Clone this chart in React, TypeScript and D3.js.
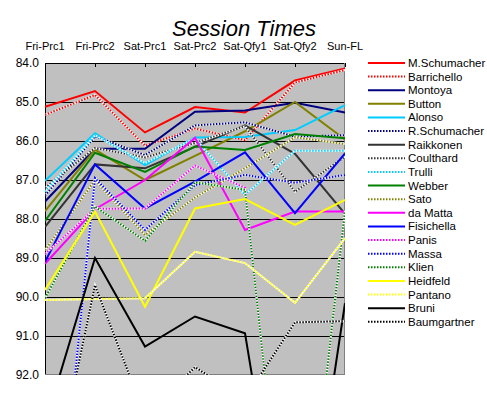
import React from "react";
import * as d3 from "d3";

const sessions = ["Fri-Prc1", "Fri-Prc2", "Sat-Prc1", "Sat-Prc2", "Sat-Qfy1", "Sat-Qfy2", "Sun-FL"];
const yTicks = [84, 85, 86, 87, 88, 89, 90, 91, 92];

const drivers = ["M.Schumacher", "Barrichello", "Montoya", "Button", "Alonso", "R.Schumacher", "Raikkonen", "Coulthard", "Trulli", "Webber", "Sato", "da Matta", "Fisichella", "Panis", "Massa", "Klien", "Heidfeld", "Pantano", "Bruni", "Baumgartner"];

const mSchumacher = [85.12, 84.72, 85.78, 85.13, 85.27, 84.45, 84.14];
const barrichello = [85.33, 84.82, 86.12, 85.68, 85.98, 84.5, 84.18];
const montoya = [87.55, 86.2, 86.2, 85.25, 85.22, 85.02, 85.27];
const button = [87.8, 86.22, 87.0, 86.38, 85.75, 85.0, 85.96];
const alonso = [87.02, 85.8, 86.62, 85.91, 85.9, 85.72, 85.08];
const rSchumacher = [87.4, 85.88, 86.36, 85.6, 85.52, 85.89, 85.85];
const raikkonen = [88.2, 86.6, 86.7, 86.15, 85.6, 86.33, 87.87];
const coulthard = [87.2, 86.18, 86.42, 86.05, 85.62, 87.3, 86.4];
const trulli = [87.3, 85.85, 86.57, 85.93, 87.38, 86.25, 86.25];
const webber = [88.05, 86.3, 86.79, 86.14, 86.23, 85.82, 85.93];
const sato = [88.8, 87.0, 88.41, 87.45, 86.7, 85.9, 86.08];
const daMatta = [89.15, 87.75, 87.0, 85.92, 88.28, 87.81, 87.81];
const fisichella = [89.1, 86.6, 87.73, 87.04, 86.29, 87.85, 86.32];
const panis = [88.9, 87.74, 87.73, 86.63, 87.2, 99.3, 87.8];
const massa = [99.6, 86.95, 88.28, 87.13, 86.87, 87.07, 86.87];
const klien = [90.03, 87.68, 88.56, 87.06, 87.25, 99.2, 87.78];
const heidfeld = [89.82, 87.81, 90.25, 87.73, 87.49, 88.15, 87.51];
const pantano = [90.08, 90.05, 90.03, 88.84, 89.13, 90.15, 88.49];
const bruni = [93.26, 89.0, 91.27, 90.5, 90.93, 98.7, 90.16];
const baumgartner = [95.85, 89.7, 93.05, 91.8, 92.6, 90.65, 90.62];

const seriesValues = [mSchumacher, barrichello, montoya, button, alonso, rSchumacher, raikkonen, coulthard, trulli, webber, sato, daMatta, fisichella, panis, massa, klien, heidfeld, pantano, bruni, baumgartner];
const colors = ["#ff0000", "#ff0000", "#000080", "#808000", "#00ccff", "#000080", "#333333", "#333333", "#00ccff", "#008000", "#808000", "#ff00ff", "#0000ff", "#ff00ff", "#0000ff", "#008000", "#ffff00", "#ffff00", "#000000", "#000000"];
const dotted = [false, true, false, false, false, true, false, true, true, false, true, false, false, true, true, true, false, true, false, true];

const L = 45, R = 345, T = 63, B = 375;

export default function App() {
  const x = d3.scalePoint<string>().domain(sessions).range([L, R]);
  const y = d3.scaleLinear().domain([84, 92]).range([T, B]);
  const line = d3.line<number>().x((_, i) => x(sessions[i]) as number).y((v) => y(v));
  const font = "'Liberation Sans', Arial, sans-serif";

  return (
    <svg width={487} height={399} style={{ position: "absolute", left: 0, top: 0, background: "#fff" }} fontFamily={font}>
      <defs>
        <clipPath id="plot">
          <rect x={L} y={T} width={R - L} height={B - T} />
        </clipPath>
      </defs>
      <text x={244} y={36} textAnchor="middle" fontSize={22} fontStyle="italic" fill="#000">Session Times</text>
      {sessions.map((s) => (
        <text key={s} x={x(s)} y={50} textAnchor="middle" fontSize={11} fill="#000">{s}</text>
      ))}
      <rect x={L} y={T} width={R - L} height={B - T} fill="#c0c0c0" />
      {yTicks.slice(0, -1).map((t) => (
        <line key={t} x1={L} x2={R} y1={Math.round(y(t)) + 0.5} y2={Math.round(y(t)) + 0.5} stroke="#000" strokeWidth={1} />
      ))}
      {sessions.map((s) => (
        <line key={s} x1={Math.round(x(s) as number) + 0.5} x2={Math.round(x(s) as number) + 0.5} y1={T} y2={T + 4} stroke="#000" />
      ))}
      <line x1={L + 0.5} x2={L + 0.5} y1={T} y2={B} stroke="#000" />
      <line x1={R - 0.5} x2={R - 0.5} y1={T} y2={B} stroke="#808080" />
      <line x1={L} x2={R} y1={B - 0.5} y2={B - 0.5} stroke="#808080" />
      {yTicks.map((t) => (
        <text key={t} x={39} y={y(t) + 4} textAnchor="end" fontSize={12} fill="#000">{t.toFixed(1)}</text>
      ))}
      <g clipPath="url(#plot)">
        {seriesValues.map((vals, i) => (
          <g key={drivers[i]}>
            {dotted[i] && <path d={line(vals) || ""} fill="none" stroke="#ffffff" strokeWidth={2} />}
            <path d={line(vals) || ""} fill="none" stroke={colors[i]} strokeWidth={2} strokeDasharray={dotted[i] ? "1.5,1.5" : undefined} />
          </g>
        ))}
      </g>
      {drivers.map((d, i) => {
        const ly = 63 + i * 13.62;
        return (
          <g key={d}>
            {dotted[i] && <line x1={368} x2={405} y1={ly} y2={ly} stroke="#ffffff" strokeWidth={2} />}
            <line x1={368} x2={405} y1={ly} y2={ly} stroke={colors[i]} strokeWidth={2} strokeDasharray={dotted[i] ? "1.5,1.5" : undefined} />
            <text x={408} y={ly + 4} fontSize={11.5} fill="#000">{d}</text>
          </g>
        );
      })}
    </svg>
  );
}
